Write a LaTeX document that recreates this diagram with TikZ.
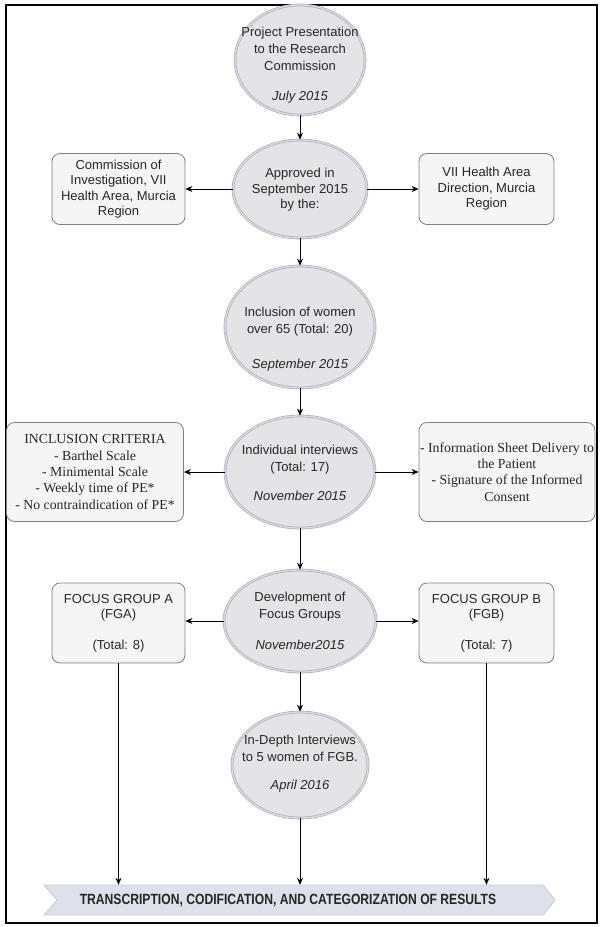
\documentclass[tikz,border=0pt]{standalone}
\usepackage{fontspec}
\setmainfont{Liberation Sans}
\newfontfamily\tnr{Liberation Serif}
\newfontfamily\barfont{Liberation Sans}[FakeStretch=0.82]
\usetikzlibrary{arrows.meta,shapes.geometric}
\definecolor{ellfill}{HTML}{E4E4E6}
\definecolor{ellline}{HTML}{B3A8BC}
\definecolor{elldbl}{HTML}{DCDCE0}
\definecolor{boxfill}{HTML}{F5F5F5}
\definecolor{boxline}{HTML}{808080}
\definecolor{barfill}{HTML}{DEE1E9}
\definecolor{barline}{HTML}{C5CAD5}
\definecolor{txt}{HTML}{262626}
\begin{document}
\begin{tikzpicture}[x=1pt,y=-1pt,
  ell/.style={ellipse, draw=ellline, double=elldbl, double distance=1.3pt, line width=0.7pt, fill=ellfill, inner sep=0pt},
  etext/.style={align=center, font=\fontsize{13}{17}\selectfont, text=txt, inner sep=0pt},
  box/.style={rectangle, rounded corners=8pt, draw=boxline, line width=0.8pt, fill=boxfill, align=center, font=\fontsize{13}{15.5}\selectfont, text=txt, inner sep=0pt},
  sbox/.style={box, font=\tnr\fontsize{13.8}{16.3}\selectfont},
  arr/.style={-{Stealth[length=7pt,width=6pt]}, line width=0.8pt, black},
  barshape/.style={draw=barline, fill=barfill, line width=0.8pt},
  bartxt/.style={font=\barfont\bfseries\fontsize{14.8}{16}\selectfont, text=txt, inner sep=0pt, minimum height=30pt}
]
\useasboundingbox (0,0) rectangle (601,927);
\draw[line width=2pt] (6,5) rectangle (597,923);

% ellipses
\node[ell, minimum width=130pt, minimum height=110pt] (e1) at (300,60) {};
\node[etext] (e1t) at (300,65) {Project Presentation\\to the Research\\Commission\\[13pt]\textit{July 2015}};

\node[ell, minimum width=134pt, minimum height=98pt] (e2) at (300,189) {};
\node[etext, font=\fontsize{13}{15.5}\selectfont] (e2t) at (300,190) {Approved in\\September 2015\\by the:};

\node[ell, minimum width=150pt, minimum height=122pt] (e3) at (300,327) {};
\node[etext] (e3t) at (300,339) {Inclusion of women\\over 65 (Total: 20)\\[18pt]\textit{September 2015}};

\node[ell, minimum width=150pt, minimum height=112pt] (e4) at (300,472) {};
\node[etext] (e4t) at (300,473) {Individual interviews\\(Total: 17)\\[12pt]\textit{November 2015}};

\node[ell, minimum width=152pt, minimum height=102pt] (e5) at (300,621) {};
\node[etext] (e5t) at (300,621) {Development of\\Focus Groups\\[14pt]\textit{November2015}};

\node[ell, minimum width=136pt, minimum height=106pt] (e6) at (300,765) {};
\node[etext] (e6t) at (300,764) {In-Depth Interviews\\to 5 women of FGB.\\[11pt]\textit{April 2016}};

% boxes
\node[box, minimum width=133pt, minimum height=71pt] (b1L) at (118.5,189) {Commission of\\Investigation, VII\\Health Area, Murcia\\Region};
\node[box, minimum width=135pt, minimum height=71pt] (b1R) at (486.5,189) {VII Health Area\\Direction, Murcia\\Region};

\node[sbox, minimum width=177pt, minimum height=99pt] (b2L) at (95,472) {INCLUSION CRITERIA\\- Barthel Scale\\- Minimental Scale\\- Weekly time of PE*\\- No contraindication of PE*};
\node[sbox, minimum width=176pt, minimum height=99pt] (b2R) at (507,472) {- Information Sheet Delivery to\\the Patient\\- Signature of the Informed\\Consent};

\node[box, minimum width=133pt, minimum height=80pt] (b3L) at (118.5,623) {FOCUS GROUP A\\(FGA)\\[15pt](Total: 8)};
\node[box, minimum width=135pt, minimum height=80pt] (b3R) at (486.5,623) {FOCUS GROUP B\\(FGB)\\[15pt](Total: 7)};

% bar
\draw[barshape] (44,885) -- (543,885) -- (555,900) -- (543,915) -- (44,915) -- (57,900) -- cycle;
\node[bartxt] (bar) at (288,900) {TRANSCRIPTION, CODIFICATION, AND CATEGORIZATION OF RESULTS};

% connectors
\draw[arr] (e1.south) -- (e2.north);
\draw[arr] (e2.south) -- (e3.north);
\draw[arr] (e3.south) -- (e4.north);
\draw[arr] (e4.south) -- (e5.north);
\draw[arr] (e5.south) -- (e6.north);
\draw[arr] (e2.west) -- (b1L.east);
\draw[arr] (e2.east) -- (b1R.west);
\draw[arr] (e4.west) -- (b2L.east);
\draw[arr] (e4.east) -- (b2R.west);
\draw[arr] (e5.west) -- (e5.west -| b3L.east);
\draw[arr] (e5.east) -- (e5.east -| b3R.west);
\draw[arr] (b3L.south) -- (b3L.south |- bar.north);
\draw[arr] (e6.south) -- (e6.south |- bar.north);
\draw[arr] (b3R.south) -- (b3R.south |- bar.north);
\end{tikzpicture}
\end{document}
